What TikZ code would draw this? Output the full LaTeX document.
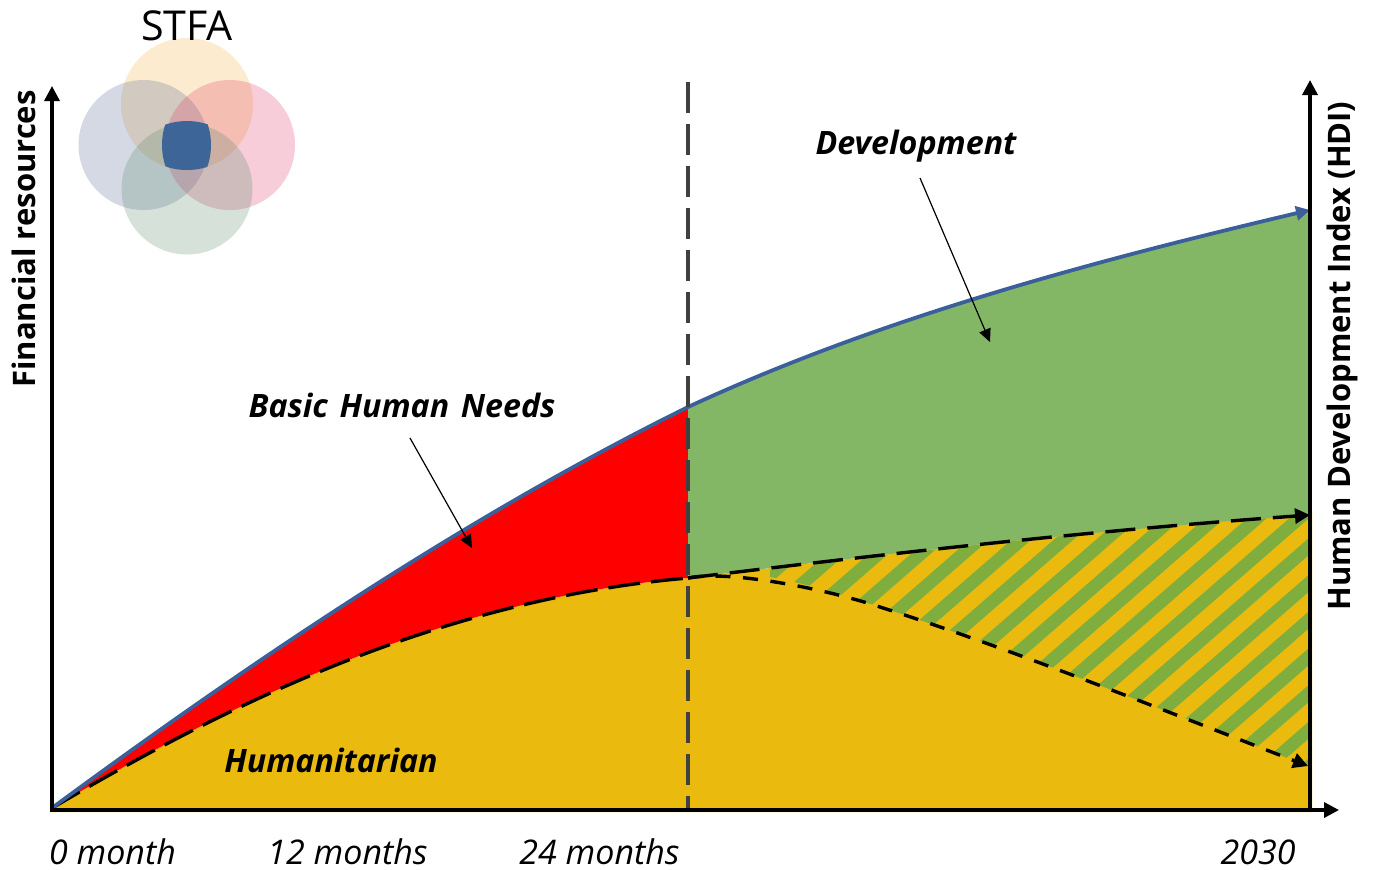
\documentclass[tikz,border=0pt]{standalone}
\usepackage{fontspec}
\setmainfont{Open Sans}
\usetikzlibrary{arrows.meta}
\definecolor{gold}{HTML}{EABB0E}
\definecolor{devgreen}{HTML}{84B765}
\definecolor{stripe}{HTML}{80AE3E}
\definecolor{curveblue}{HTML}{3A5F9A}
\definecolor{vblue}{HTML}{3E6597}
\definecolor{dashgrey}{HTML}{404040}
\definecolor{vtop}{RGB}{243,175,63}
\definecolor{vleft}{RGB}{87,103,147}
\definecolor{vright}{RGB}{219,55,99}
\definecolor{vbottom}{RGB}{87,135,103}
\tikzset{
  axisline/.style={line width=1.7pt,-{Triangle[length=7.5pt,width=7.5pt]}},
  dashcurve/.style={line width=1.7pt,dash pattern=on 15pt off 6pt,-{Triangle[length=7.5pt,width=7.5pt]}},
  finedash/.style={line width=1.7pt,dash pattern=on 7.5pt off 6.3pt,-{Triangle[length=7.5pt,width=7.5pt]}},
  thinarrow/.style={line width=.6pt,-{Triangle[length=6.5pt,width=6pt]}},
  blab/.style={font=\fontsize{16.1}{18}\selectfont\bfseries\itshape,inner sep=0pt},
  tick/.style={font=\fontsize{17}{18}\selectfont\itshape,inner sep=0pt},
  axlab/.style={font=\fontsize{15.5}{18}\selectfont\bfseries,inner sep=0pt,rotate=90},
}
\begin{document}
\begin{tikzpicture}[x=0.5pt,y=-0.5pt]
\useasboundingbox (0,0) rectangle (1374,869);
\coordinate (O) at (52,808);
\coordinate (M) at (688,407);
\coordinate (L) at (688,578);
\coordinate (E1) at (1310,210);
\coordinate (E2) at (1310,515);
\coordinate (E3) at (1308,766);
% gold base
\fill[gold] (50,812) -- (52,808) .. controls (210,715) and (430,600) .. (688,578) .. controls (900,552) and (1100,530) .. (1312,513) -- (1312,812) -- cycle;
% red
\fill[red] (52,808) .. controls (260,655) and (470,515) .. (688,407) -- (688,578) .. controls (430,600) and (210,715) .. (52,808) -- cycle;
% development green
\fill[devgreen] (688,407) .. controls (880,318) and (1090,262) .. (1310,210) -- (1310,515) .. controls (1100,530) and (900,552) .. (688,578) -- cycle;
% stripes
\begin{scope}
\clip (770,570) .. controls (900,552) and (1100,530) .. (1310,515) -- (1310,768) -- (1308,766) .. controls (1150,705) and (1000,645) .. (880,607) .. controls (840,594) and (800,582) .. (770,577) -- cycle;
\foreach \k in {-14,...,7}{
  \pgfmathsetmacro\s{537+\k*36.7}
  \fill[stripe] (1310,\s) -- (1310,\s+17) -- (710,\s+17+522) -- (710,\s+522) -- cycle;
}
\end{scope}
% curves
\draw[line width=1.7pt,dash pattern=on 16pt off 5.5pt] (O) .. controls (210,715) and (430,600) .. (L);
\draw[line width=1.9pt,curveblue] (O) .. controls (260,655) and (470,515) .. (M);
\draw[line width=1.9pt,curveblue,-{Triangle[length=7pt,width=7pt]}] (M) .. controls (880,318) and (1090,262) .. (E1);
\draw[dashcurve] (L) .. controls (900,552) and (1100,530) .. (E2);
\draw[finedash] (L) .. controls (725,570) and (820,587) .. (880,607) .. controls (1000,645) and (1150,705) .. (E3);
% vertical dashed line
\coordinate (VT) at (688,82);
\coordinate (VB) at (688,810);
\draw[dashgrey,line width=2pt,dash pattern=on 15.5pt off 5.5pt] (VT) -- (VB);
% axes
\coordinate (YT) at (52,86);
\coordinate (XE) at (1339,810);
\coordinate (RB) at (1310,810);
\coordinate (RT) at (1310,80);
\coordinate (XS) at (50,810);
\draw[axisline] (XS) -- (XE);
\draw[axisline] (O) -- (YT);
\draw[axisline] (RB) -- (RT);
% venn
\fill[vtop,opacity=.25] (187,104) circle (66);
\fill[vleft,opacity=.25] (143.5,145) circle (65);
\fill[vright,opacity=.25] (230,145) circle (65);
\fill[vbottom,opacity=.25] (187,189) circle (65.5);
\begin{scope}
\clip (187,104) circle (66);
\clip (145,145) circle (66);
\clip (228,145) circle (66);
\fill[vblue] (187,187) circle (66);
\end{scope}
% labels
\node[font=\fontsize{20.6}{25}\selectfont,inner sep=0pt] (stfa) at (187,26) {STFA};
\node[blab] (dev) at (916,146) {Development};
\node[blab] (bhn) at (402,405) {Basic\hspace{.1em} Human\hspace{.1em} Needs};
\node[blab] (hum) at (331,760) {Humanitarian};
\node[tick] (t0) at (112.5,852) {0 month};
\node[tick] (t12) at (347.5,852) {12 months};
\node[tick] (t24) at (599.5,852) {24 months};
\node[tick] (t30) at (1258,852) {2030};
\node[axlab] (fin) at (24,239) {Financial resources};
\node[axlab] (hdi) at (1342,356) {Human Development Index (HDI)};
% pointers
\coordinate (DA) at (920,178);
\coordinate (DB) at (990,342);
\coordinate (BA) at (410,438);
\coordinate (BB) at (472,548);
\draw[thinarrow] (DA) -- (DB);
\draw[thinarrow] (BA) -- (BB);
\end{tikzpicture}
\end{document}
